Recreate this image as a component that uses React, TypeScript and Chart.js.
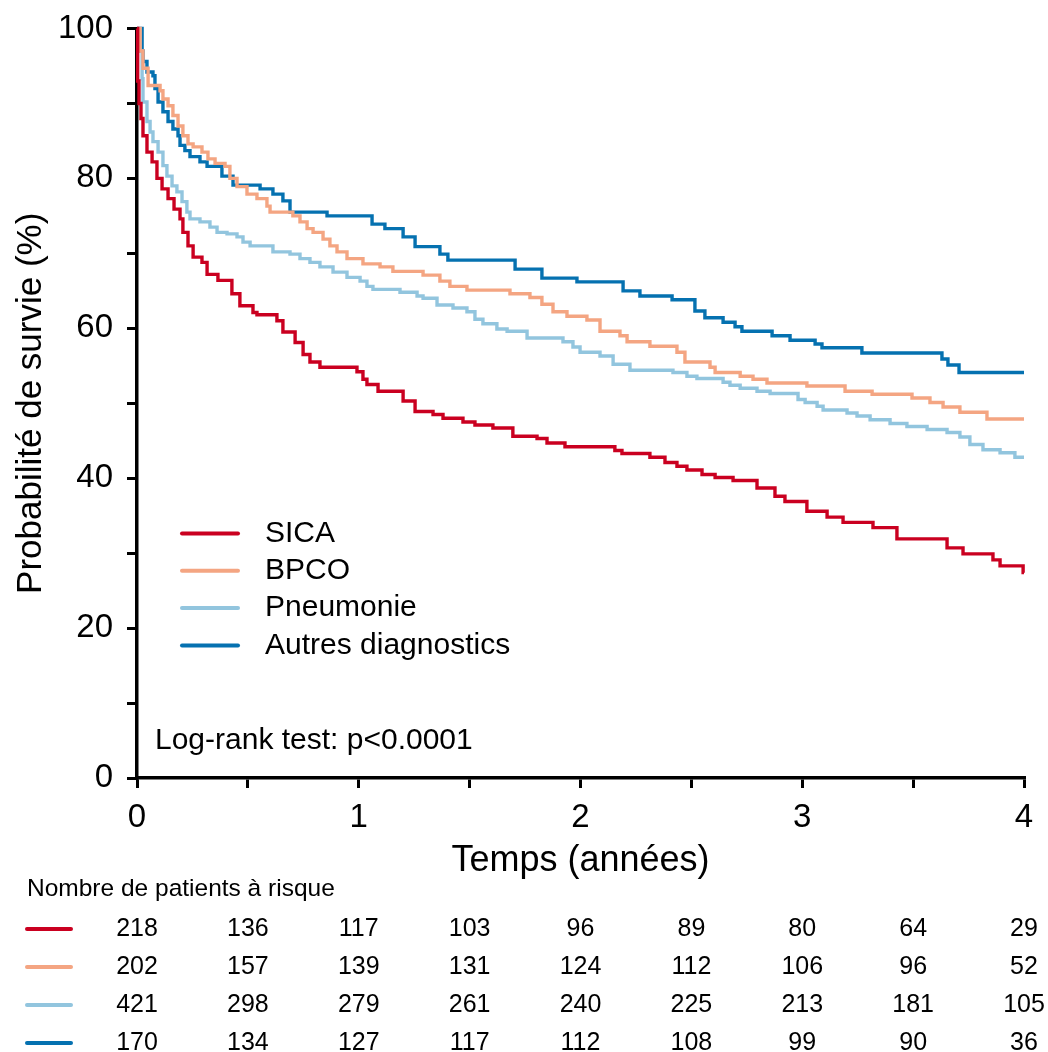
import React, { useEffect, useRef } from 'react';
import { Chart, registerables } from 'chart.js';

Chart.register(...registerables);

const FONT = "'Liberation Sans', Arial, sans-serif";

const seriesLabels = ['SICA', 'BPCO', 'Pneumonie', 'Autres diagnostics'];
const seriesColors = ['#CA0020', '#F4A582', '#92C5DE', '#0571B0'];

// Kaplan-Meier step points (time in years, survival in %)
const sicaTimes = [0, 0.003, 0.009, 0.018, 0.027, 0.045, 0.068, 0.09, 0.113, 0.14, 0.167, 0.194, 0.207, 0.23, 0.253, 0.293, 0.316, 0.365, 0.428, 0.464, 0.523, 0.541, 0.631, 0.658, 0.713, 0.749, 0.78, 0.825, 0.992, 1.019, 1.037, 1.087, 1.2, 1.254, 1.335, 1.38, 1.47, 1.524, 1.605, 1.695, 1.804, 1.849, 1.93, 2.155, 2.187, 2.313, 2.381, 2.435, 2.48, 2.548, 2.607, 2.688, 2.796, 2.877, 2.922, 3.021, 3.112, 3.184, 3.319, 3.427, 3.653, 3.725, 3.86, 3.892, 3.996, 4.0];
const sicaSurvival = [100, 93, 90, 88, 85.7, 83.5, 82.2, 80, 78.6, 77.3, 75.9, 74.6, 72.8, 71, 69.5, 68.8, 67.2, 66.4, 64.6, 63, 62.1, 61.8, 61, 59.5, 58.1, 56.5, 55.5, 54.8, 54.2, 53.2, 52.5, 51.6, 50.3, 48.9, 48.5, 48, 47.5, 47.1, 46.7, 45.6, 45.3, 44.7, 44.2, 43.7, 43.3, 42.8, 42.1, 41.6, 41.1, 40.5, 40.1, 39.7, 38.7, 37.6, 36.9, 35.6, 34.8, 34.1, 33.4, 31.9, 30.7, 29.9, 29.1, 28.3, 27.4, 27.4];

const bpcoTimes = [0, 0.014, 0.027, 0.05, 0.104, 0.117, 0.14, 0.162, 0.185, 0.207, 0.23, 0.253, 0.293, 0.32, 0.352, 0.397, 0.419, 0.451, 0.496, 0.541, 0.586, 0.6, 0.703, 0.735, 0.767, 0.794, 0.839, 0.87, 0.902, 0.947, 1.019, 1.096, 1.154, 1.29, 1.366, 1.411, 1.488, 1.682, 1.772, 1.826, 1.876, 1.939, 2.029, 2.088, 2.178, 2.21, 2.313, 2.435, 2.471, 2.584, 2.607, 2.72, 2.778, 2.841, 3.021, 3.193, 3.315, 3.495, 3.576, 3.635, 3.711, 3.833, 4.0];
const bpcoSurvival = [100, 97, 94.7, 92.4, 91.7, 90.6, 89.7, 88.4, 87, 85.7, 84.6, 84.2, 83.5, 82.6, 82, 81.6, 80, 78.9, 77.9, 77.3, 76.3, 75.5, 75, 74.2, 73.3, 72.8, 71.9, 71, 70.2, 69.3, 68.6, 68.2, 67.6, 67.1, 66.3, 65.6, 65.1, 64.6, 64.1, 63.2, 62.2, 61.6, 61.1, 59.6, 59, 58.2, 57.6, 56.8, 55.5, 54.8, 54.1, 53.6, 53.2, 52.7, 52.3, 51.6, 51.2, 50.7, 50.1, 49.5, 48.8, 47.9, 47.9];

const pneumonieTimes = [0, 0.014, 0.023, 0.027, 0.045, 0.059, 0.072, 0.095, 0.117, 0.135, 0.158, 0.18, 0.203, 0.225, 0.239, 0.284, 0.329, 0.361, 0.406, 0.451, 0.478, 0.51, 0.613, 0.69, 0.735, 0.78, 0.825, 0.884, 0.947, 1.006, 1.037, 1.064, 1.186, 1.263, 1.29, 1.353, 1.425, 1.488, 1.524, 1.56, 1.623, 1.669, 1.759, 1.921, 1.966, 1.998, 2.088, 2.147, 2.223, 2.417, 2.48, 2.525, 2.643, 2.674, 2.72, 2.796, 2.855, 2.981, 3.013, 3.067, 3.094, 3.202, 3.247, 3.306, 3.396, 3.472, 3.563, 3.653, 3.711, 3.756, 3.815, 3.892, 3.959, 4.0];
const pneumonieSurvival = [100, 97, 93.3, 90.2, 87.6, 86.2, 84.9, 83.5, 81.7, 80.3, 79, 78.2, 76.9, 75.5, 74.6, 74.2, 73.5, 72.8, 72.6, 72.2, 71.5, 71, 70.2, 69.9, 69.3, 68.8, 68.2, 67.5, 66.8, 66.3, 65.6, 65.2, 64.8, 64.3, 64, 63.1, 62.7, 62.2, 61.2, 60.6, 59.9, 59.6, 58.7, 58.2, 57.5, 56.8, 56.3, 55.2, 54.4, 54.1, 53.6, 53.3, 52.8, 52.4, 52, 51.6, 51.3, 50.5, 50.1, 49.6, 49.1, 48.7, 48.3, 47.8, 47.3, 46.9, 46.5, 46.1, 45.5, 44.5, 43.8, 43.4, 42.8, 42.8];

const autresTimes = [0, 0.023, 0.027, 0.045, 0.072, 0.081, 0.095, 0.117, 0.14, 0.162, 0.185, 0.194, 0.216, 0.239, 0.284, 0.316, 0.383, 0.433, 0.555, 0.613, 0.658, 0.69, 0.857, 1.06, 1.118, 1.2, 1.254, 1.366, 1.402, 1.705, 1.826, 1.984, 2.192, 2.268, 2.413, 2.516, 2.561, 2.643, 2.697, 2.728, 2.864, 2.945, 3.058, 3.089, 3.269, 3.63, 3.657, 3.707, 4.0];
const autresSurvival = [100, 97, 95.6, 94.2, 93.7, 92, 90.2, 88.9, 87.6, 86.6, 85.7, 84.4, 83.7, 82.9, 82.2, 81.6, 80.3, 79.1, 78.6, 77.9, 77, 75.5, 75, 73.9, 73.3, 72.2, 70.9, 69.9, 69.1, 67.9, 66.7, 66.2, 65, 64.3, 63.8, 62.3, 61.4, 60.8, 60.2, 59.6, 59, 58.4, 57.9, 57.4, 56.7, 55.9, 55.1, 54.1, 54.1];

// Number at risk table
const riskTimes = [0, 0.5, 1, 1.5, 2, 2.5, 3, 3.5, 4];
const sicaAtRisk = [218, 136, 117, 103, 96, 89, 80, 64, 29];
const bpcoAtRisk = [202, 157, 139, 131, 124, 112, 106, 96, 52];
const pneumonieAtRisk = [421, 298, 279, 261, 240, 225, 213, 181, 105];
const autresAtRisk = [170, 134, 127, 117, 112, 108, 99, 90, 36];

const riskHeader = 'Nombre de patients à risque';
const testText = 'Log-rank test: p<0.0001';
const xTitle = 'Temps (années)';
const yTitle = 'Probabilité de survie (%)';

const allTimes = [sicaTimes, bpcoTimes, pneumonieTimes, autresTimes];
const allSurvival = [sicaSurvival, bpcoSurvival, pneumonieSurvival, autresSurvival];
const allAtRisk = [sicaAtRisk, bpcoAtRisk, pneumonieAtRisk, autresAtRisk];

const overlayPlugin = {
  id: 'kmOverlay',
  afterDraw(chart: any) {
    const { ctx, chartArea } = chart;
    const xScale = chart.scales.x;
    ctx.save();
    ctx.fillStyle = '#000';
    ctx.textBaseline = 'middle';

    // Legend inside the plot
    chart.data.datasets.forEach((ds: any, i: number) => {
      const y = 533.5 + i * 37.3;
      ctx.strokeStyle = ds.borderColor;
      ctx.lineWidth = 4;
      ctx.lineCap = 'round';
      ctx.beginPath();
      ctx.moveTo(chartArea.left + 45, y);
      ctx.lineTo(chartArea.left + 101, y);
      ctx.stroke();
      ctx.fillStyle = '#000';
      ctx.font = `30px ${FONT}`;
      ctx.textAlign = 'left';
      ctx.fillText(ds.label, chartArea.left + 128, y);
    });

    // Log-rank annotation
    ctx.font = `30px ${FONT}`;
    ctx.textAlign = 'left';
    ctx.fillText(testText, chartArea.left + 18, 741);

    // Risk table
    ctx.font = `24.5px ${FONT}`;
    ctx.fillText(riskHeader, 27, 889);
    chart.data.datasets.forEach((ds: any, i: number) => {
      const y = 929 + i * 38;
      ctx.strokeStyle = ds.borderColor;
      ctx.lineWidth = 4;
      ctx.lineCap = 'round';
      ctx.beginPath();
      ctx.moveTo(27, y);
      ctx.lineTo(71, y);
      ctx.stroke();
      ctx.fillStyle = '#000';
      ctx.font = `25px ${FONT}`;
      ctx.textAlign = 'center';
      allAtRisk[i].forEach((n, j) => {
        ctx.fillText(String(n), xScale.getPixelForValue(riskTimes[j]), y);
      });
    });
    ctx.restore();
  },
};

export default function App() {
  const ref = useRef<HTMLCanvasElement>(null);

  useEffect(() => {
    const canvas = ref.current;
    if (!canvas) return;
    const datasets = seriesLabels.map((label, i) => ({
      label,
      data: allTimes[i].map((t, k) => ({ x: t, y: allSurvival[i][k] })),
      borderColor: seriesColors[i],
      backgroundColor: seriesColors[i],
      borderWidth: 3.4,
      pointRadius: 0,
      stepped: 'before' as const,
      fill: false,
      clip: 6,
    }));

    const chart = new Chart(canvas, {
      type: 'line',
      data: { datasets },
      options: {
        responsive: false,
        animation: false,
        devicePixelRatio: 1,
        layout: { padding: { top: 28.5, right: 24, left: 0, bottom: 0 } },
        plugins: {
          legend: { display: false },
          tooltip: { enabled: false },
        },
        scales: {
          x: {
            type: 'linear',
            min: 0,
            max: 4,
            ticks: {
              stepSize: 0.5,
              autoSkip: false,
              maxRotation: 0,
              padding: 10,
              color: '#000',
              font: { family: FONT, size: 33 },
              callback: (v: any) => (Number.isInteger(Number(v)) ? String(v) : ''),
            },
            grid: {
              display: true,
              drawOnChartArea: false,
              drawTicks: true,
              tickLength: 10,
              color: '#000',
              lineWidth: 3,
            },
            border: { display: true, color: '#000', width: 3.5 },
            title: {
              display: true,
              text: xTitle,
              color: '#000',
              font: { family: FONT, size: 36, lineHeight: 1.2 },
              padding: { top: 0, bottom: 169 },
            },
            afterFit: (s: any) => {
              s.height = 274;
              s.paddingLeft = 0;
              s.paddingRight = 0;
            },
          },
          y: {
            type: 'linear',
            min: 0,
            max: 100,
            ticks: {
              stepSize: 10,
              autoSkip: false,
              padding: 14,
              color: '#000',
              font: { family: FONT, size: 33 },
              callback: (v: any) => (Number(v) % 20 === 0 ? String(v) : ''),
            },
            grid: {
              display: true,
              drawOnChartArea: false,
              drawTicks: true,
              tickLength: 10,
              color: '#000',
              lineWidth: 3,
            },
            border: { display: true, color: '#000', width: 3.5 },
            title: {
              display: true,
              text: yTitle,
              color: '#000',
              font: { family: FONT, size: 35, lineHeight: 1.2 },
              padding: { top: 10, bottom: 0 },
            },
            afterFit: (s: any) => {
              s.width = 137;
              s.paddingTop = 0;
              s.paddingBottom = 0;
            },
          },
        },
      },
      plugins: [overlayPlugin],
    });
    return () => chart.destroy();
  }, []);

  return (
    <div style={{ position: 'fixed', left: 0, top: 0, width: 1048, height: 1052, background: '#fff' }}>
      <canvas ref={ref} width={1048} height={1052} style={{ display: 'block', width: 1048, height: 1052 }} />
    </div>
  );
}
